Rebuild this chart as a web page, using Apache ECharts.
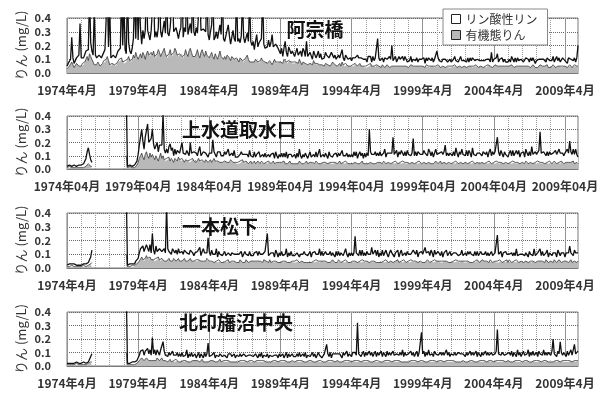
<!DOCTYPE html>
<html>
<head>
<meta charset="utf-8">
<script src="https://cdn.jsdelivr.net/npm/echarts@6/dist/echarts.min.js"></script>
<style>
html,body{margin:0;padding:0;background:#fff}
#chart{width:603px;height:396px}
</style>
</head>
<body>
<div id="chart"></div>
<script>
// Monthly phosphorus (mg/L), April 1974 – March 2010, one row per fiscal year (Apr–Mar).
const startYear = 1974;
const monthCount = 432;
const tickYears = [1974, 1979, 1984, 1989, 1994, 1999, 2004, 2009];
const stations = ['阿宗橋', '上水道取水口', '一本松下', '北印旛沼中央'];
const seriesNames = ['リン酸性リン', '有機態りん'];

// 阿宗橋
const asoOrg = [
0.03,0.04,0.05,0.06,0.08,0.06,0.04,0.05,0.07,0.06,0.05,0.06,
0.05,0.07,0.06,0.08,0.10,0.12,0.09,0.14,0.12,0.10,0.08,0.06,
0.05,0.06,0.08,0.07,0.05,0.06,0.07,0.09,0.08,0.10,0.12,0.09,
0.06,0.05,0.07,0.08,0.06,0.05,0.07,0.08,0.10,0.09,0.11,0.08,
0.07,0.09,0.08,0.10,0.12,0.09,0.08,0.10,0.13,0.11,0.15,0.12,
0.10,0.12,0.14,0.11,0.15,0.13,0.10,0.14,0.16,0.13,0.12,0.15,
0.13,0.16,0.12,0.11,0.14,0.17,0.15,0.12,0.13,0.16,0.18,0.14,
0.12,0.11,0.14,0.17,0.13,0.12,0.15,0.18,0.16,0.13,0.12,0.14,
0.15,0.12,0.11,0.13,0.17,0.14,0.12,0.16,0.18,0.15,0.12,0.13,
0.12,0.14,0.17,0.13,0.11,0.15,0.17,0.14,0.12,0.16,0.13,0.12,
0.11,0.13,0.15,0.12,0.10,0.14,0.12,0.10,0.13,0.16,0.12,0.11,
0.10,0.12,0.10,0.13,0.14,0.11,0.09,0.12,0.13,0.10,0.10,0.11,
0.10,0.08,0.11,0.12,0.09,0.08,0.10,0.11,0.13,0.10,0.08,0.09,
0.08,0.09,0.08,0.10,0.11,0.08,0.07,0.09,0.11,0.09,0.08,0.08,
0.08,0.07,0.08,0.09,0.08,0.06,0.08,0.10,0.08,0.07,0.08,0.08,
0.08,0.09,0.07,0.10,0.11,0.08,0.07,0.09,0.10,0.08,0.07,0.08,
0.07,0.08,0.09,0.07,0.10,0.08,0.06,0.08,0.09,0.07,0.08,0.06,
0.06,0.07,0.08,0.06,0.09,0.07,0.06,0.07,0.08,0.06,0.07,0.06,
0.06,0.05,0.07,0.08,0.06,0.07,0.05,0.06,0.08,0.07,0.06,0.05,
0.05,0.06,0.07,0.05,0.08,0.06,0.05,0.07,0.06,0.05,0.06,0.05,
0.05,0.06,0.05,0.07,0.06,0.05,0.06,0.07,0.05,0.06,0.05,0.04,
0.05,0.04,0.06,0.05,0.07,0.05,0.06,0.05,0.04,0.06,0.05,0.05,
0.05,0.04,0.06,0.05,0.04,0.05,0.06,0.05,0.04,0.05,0.05,0.04,
0.05,0.06,0.05,0.04,0.05,0.06,0.05,0.04,0.05,0.06,0.05,0.05,
0.04,0.05,0.06,0.05,0.05,0.04,0.05,0.06,0.05,0.04,0.05,0.05,
0.05,0.05,0.04,0.06,0.05,0.05,0.04,0.05,0.06,0.05,0.04,0.05,
0.05,0.06,0.05,0.04,0.05,0.05,0.06,0.04,0.05,0.05,0.04,0.05,
0.04,0.05,0.05,0.06,0.05,0.04,0.05,0.05,0.06,0.04,0.05,0.05,
0.05,0.04,0.05,0.05,0.06,0.05,0.04,0.05,0.05,0.06,0.05,0.04,
0.05,0.05,0.06,0.04,0.05,0.05,0.04,0.06,0.05,0.05,0.05,0.04,
0.05,0.06,0.05,0.05,0.04,0.05,0.06,0.05,0.04,0.05,0.05,0.05,
0.04,0.05,0.05,0.06,0.05,0.04,0.05,0.05,0.06,0.05,0.04,0.05,
0.05,0.05,0.04,0.05,0.06,0.05,0.05,0.04,0.05,0.06,0.05,0.04,
0.05,0.04,0.05,0.06,0.05,0.05,0.04,0.05,0.05,0.06,0.04,0.05,
0.04,0.05,0.06,0.05,0.04,0.05,0.05,0.06,0.05,0.04,0.05,0.05,
0.05,0.05,0.04,0.05,0.06,0.05,0.04,0.05,0.06,0.05,0.05,0.05
];
const asoPO4 = [
0.02,0.03,0.02,0.04,0.18,0.05,0.03,0.02,0.04,0.06,0.08,0.30,
0.06,0.04,0.05,0.03,0.06,0.05,0.08,0.45,0.10,0.06,0.05,0.40,
0.08,0.05,0.04,0.06,0.07,0.05,0.06,0.04,0.09,0.07,0.48,0.10,
0.45,0.06,0.04,0.05,0.07,0.06,0.05,0.08,0.06,0.09,0.50,0.12,
0.46,0.08,0.06,0.52,0.10,0.07,0.06,0.08,0.12,0.48,0.10,0.50,
0.14,0.45,0.18,0.10,0.16,0.12,0.21,0.50,0.15,0.18,0.12,0.16,
0.17,0.44,0.14,0.19,0.12,0.16,0.48,0.18,0.13,0.10,0.20,0.15,
0.46,0.18,0.13,0.16,0.20,0.45,0.15,0.12,0.17,0.19,0.13,0.16,
0.18,0.50,0.15,0.20,0.13,0.47,0.16,0.12,0.18,0.14,0.44,0.17,
0.15,0.19,0.12,0.17,0.48,0.16,0.13,0.18,0.20,0.14,0.46,0.16,
0.13,0.17,0.20,0.45,0.14,0.12,0.18,0.15,0.13,0.19,0.16,0.49,
0.15,0.11,0.17,0.14,0.21,0.16,0.12,0.10,0.18,0.15,0.13,0.47,
0.13,0.17,0.11,0.15,0.44,0.18,0.12,0.10,0.16,0.13,0.46,0.14,
0.12,0.14,0.09,0.13,0.17,0.11,0.15,0.12,0.14,0.48,0.13,0.10,
0.09,0.12,0.16,0.10,0.14,0.22,0.11,0.09,0.13,0.15,0.10,0.11,
0.06,0.09,0.05,0.08,0.12,0.07,0.05,0.10,0.08,0.06,0.09,0.07,
0.05,0.07,0.09,0.06,0.04,0.08,0.06,0.10,0.07,0.05,0.15,0.06,
0.05,0.08,0.06,0.04,0.07,0.09,0.05,0.06,0.08,0.05,0.07,0.04,
0.04,0.06,0.08,0.05,0.07,0.04,0.06,0.09,0.05,0.04,0.07,0.05,
0.05,0.07,0.04,0.06,0.09,0.05,0.04,0.06,0.08,0.05,0.04,0.06,
0.04,0.05,0.07,0.04,0.06,0.08,0.05,0.03,0.06,0.04,0.05,0.07,
0.05,0.04,0.06,0.08,0.05,0.03,0.06,0.04,0.07,0.05,0.20,0.06,
0.04,0.06,0.05,0.03,0.07,0.05,0.04,0.06,0.08,0.05,0.15,0.05,
0.04,0.06,0.03,0.05,0.07,0.04,0.05,0.08,0.04,0.06,0.05,0.03,
0.05,0.04,0.06,0.03,0.05,0.07,0.04,0.05,0.03,0.06,0.04,0.05,
0.04,0.06,0.03,0.05,0.04,0.06,0.08,0.04,0.05,0.03,0.06,0.04,
0.11,0.05,0.04,0.06,0.03,0.05,0.04,0.06,0.05,0.03,0.04,0.05,
0.04,0.03,0.05,0.06,0.04,0.05,0.03,0.04,0.06,0.05,0.03,0.04,
0.05,0.04,0.06,0.03,0.05,0.04,0.07,0.05,0.04,0.03,0.05,0.06,
0.04,0.05,0.03,0.06,0.04,0.05,0.06,0.04,0.05,0.03,0.10,0.04,
0.05,0.04,0.06,0.09,0.04,0.05,0.03,0.06,0.04,0.05,0.03,0.04,
0.04,0.05,0.03,0.06,0.05,0.04,0.06,0.03,0.05,0.04,0.06,0.05,
0.05,0.03,0.04,0.06,0.04,0.05,0.03,0.07,0.04,0.05,0.04,0.03,
0.04,0.06,0.05,0.03,0.05,0.04,0.06,0.04,0.03,0.05,0.06,0.04,
0.05,0.04,0.06,0.03,0.05,0.07,0.04,0.05,0.03,0.04,0.06,0.05,
0.04,0.05,0.03,0.06,0.04,0.05,0.07,0.04,0.05,0.03,0.06,0.15
];

// 上水道取水口
const josuiOrg = [
0.01,0.01,0.02,0.01,0.01,0.02,0.01,0.01,0.01,0.02,0.01,0.01,
0.01,0.02,0.01,0.01,0.02,0.03,0.04,0.03,0.02,0.02,null,null,
null,null,null,null,null,null,null,null,null,null,null,null,
null,null,null,null,null,null,null,null,null,null,null,null,
null,null,0.10,0.01,0.01,0.02,0.01,0.01,0.02,0.01,0.02,0.03,
0.05,0.08,0.10,0.12,0.09,0.07,0.11,0.13,0.10,0.08,0.12,0.09,
0.11,0.09,0.07,0.10,0.08,0.06,0.09,0.12,0.08,0.10,0.07,0.06,
0.08,0.07,0.09,0.06,0.08,0.07,0.05,0.08,0.07,0.06,0.09,0.07,
0.06,0.08,0.07,0.05,0.07,0.08,0.06,0.05,0.07,0.06,0.08,0.06,
0.07,0.05,0.06,0.08,0.06,0.05,0.07,0.06,0.05,0.07,0.06,0.05,
0.06,0.07,0.05,0.06,0.08,0.06,0.05,0.06,0.07,0.05,0.06,0.05,
0.05,0.06,0.07,0.05,0.06,0.05,0.07,0.06,0.05,0.06,0.05,0.04,
0.05,0.04,0.06,0.05,0.07,0.05,0.04,0.06,0.05,0.04,0.05,0.06,
0.04,0.05,0.06,0.04,0.05,0.06,0.05,0.04,0.06,0.05,0.04,0.05,
0.05,0.04,0.06,0.05,0.04,0.05,0.06,0.04,0.05,0.05,0.04,0.05,
0.04,0.05,0.05,0.06,0.04,0.05,0.04,0.05,0.06,0.04,0.05,0.04,
0.05,0.04,0.05,0.04,0.06,0.05,0.04,0.05,0.04,0.05,0.06,0.04,
0.04,0.05,0.04,0.05,0.05,0.04,0.06,0.05,0.04,0.05,0.04,0.05,
0.05,0.04,0.05,0.06,0.04,0.05,0.05,0.04,0.05,0.04,0.05,0.06,
0.04,0.05,0.06,0.04,0.05,0.05,0.04,0.06,0.05,0.04,0.05,0.04,
0.05,0.04,0.05,0.05,0.06,0.04,0.05,0.04,0.05,0.06,0.04,0.05,
0.04,0.05,0.04,0.05,0.05,0.06,0.04,0.05,0.04,0.05,0.05,0.04,
0.05,0.05,0.04,0.06,0.05,0.04,0.05,0.05,0.06,0.04,0.05,0.05,
0.04,0.06,0.05,0.04,0.05,0.05,0.04,0.06,0.05,0.05,0.04,0.05,
0.05,0.04,0.05,0.05,0.06,0.04,0.05,0.05,0.04,0.06,0.05,0.04,
0.04,0.05,0.06,0.04,0.05,0.05,0.06,0.04,0.05,0.04,0.05,0.06,
0.05,0.04,0.05,0.06,0.04,0.05,0.05,0.06,0.04,0.05,0.05,0.04,
0.04,0.05,0.05,0.04,0.06,0.05,0.04,0.05,0.05,0.06,0.04,0.05,
0.05,0.06,0.04,0.05,0.05,0.04,0.06,0.05,0.04,0.05,0.05,0.06,
0.04,0.05,0.05,0.06,0.04,0.05,0.05,0.04,0.06,0.05,0.04,0.05,
0.05,0.04,0.06,0.05,0.05,0.04,0.05,0.06,0.04,0.05,0.05,0.04,
0.04,0.05,0.05,0.04,0.06,0.05,0.05,0.04,0.05,0.06,0.04,0.05,
0.05,0.05,0.04,0.06,0.05,0.04,0.05,0.05,0.06,0.04,0.05,0.05,
0.04,0.06,0.05,0.05,0.04,0.05,0.06,0.04,0.05,0.05,0.04,0.06,
0.05,0.04,0.05,0.06,0.05,0.04,0.05,0.05,0.04,0.06,0.05,0.04,
0.04,0.05,0.06,0.05,0.04,0.05,0.05,0.06,0.04,0.05,0.05,0.04
];
const josuiPO4 = [
0.01,0.01,0.01,0.02,0.01,0.01,0.02,0.01,0.01,0.01,0.02,0.01,
0.02,0.01,0.03,0.02,0.06,0.10,0.12,0.08,0.05,0.03,null,null,
null,null,null,null,null,null,null,null,null,null,null,null,
null,null,null,null,null,null,null,null,null,null,null,null,
null,null,0.45,0.01,0.01,0.01,0.02,0.01,0.01,0.02,0.01,0.03,
0.06,0.10,0.14,0.18,0.12,0.08,0.13,0.10,0.24,0.12,0.09,0.14,
0.19,0.10,0.08,0.06,0.12,0.07,0.09,0.06,0.10,0.32,0.08,0.06,
0.07,0.05,0.08,0.13,0.06,0.09,0.05,0.07,0.04,0.08,0.06,0.05,
0.06,0.12,0.05,0.07,0.04,0.06,0.08,0.05,0.13,0.06,0.04,0.07,
0.05,0.07,0.04,0.06,0.11,0.05,0.04,0.07,0.09,0.05,0.06,0.04,
0.06,0.04,0.07,0.16,0.05,0.06,0.04,0.07,0.05,0.08,0.04,0.06,
0.05,0.07,0.04,0.06,0.09,0.05,0.04,0.06,0.05,0.08,0.04,0.05,
0.04,0.06,0.05,0.08,0.04,0.05,0.07,0.04,0.06,0.05,0.09,0.04,
0.05,0.04,0.07,0.05,0.06,0.04,0.08,0.05,0.04,0.06,0.05,0.07,
0.04,0.06,0.05,0.04,0.07,0.05,0.06,0.04,0.08,0.05,0.04,0.06,
0.05,0.07,0.04,0.06,0.05,0.08,0.04,0.06,0.05,0.07,0.04,0.05,
0.06,0.04,0.07,0.05,0.09,0.05,0.04,0.06,0.05,0.07,0.05,0.04,
0.05,0.08,0.05,0.04,0.06,0.05,0.07,0.04,0.06,0.10,0.05,0.04,
0.06,0.05,0.07,0.05,0.04,0.08,0.05,0.06,0.04,0.07,0.05,0.06,
0.05,0.07,0.04,0.06,0.09,0.05,0.06,0.04,0.07,0.05,0.06,0.05,
0.06,0.05,0.08,0.05,0.07,0.04,0.06,0.09,0.05,0.06,0.04,0.07,
0.05,0.07,0.06,0.25,0.08,0.05,0.07,0.06,0.09,0.05,0.07,0.06,
0.08,0.05,0.07,0.06,0.10,0.05,0.07,0.08,0.06,0.09,0.07,0.19,
0.07,0.06,0.09,0.05,0.08,0.06,0.10,0.07,0.05,0.08,0.06,0.09,
0.06,0.08,0.05,0.07,0.17,0.06,0.08,0.05,0.09,0.07,0.06,0.08,
0.07,0.09,0.06,0.08,0.05,0.10,0.07,0.06,0.08,0.05,0.07,0.09,
0.06,0.08,0.07,0.05,0.09,0.06,0.08,0.12,0.06,0.07,0.05,0.08,
0.07,0.05,0.08,0.06,0.10,0.07,0.05,0.08,0.06,0.09,0.07,0.06,
0.05,0.08,0.06,0.09,0.07,0.05,0.10,0.06,0.08,0.05,0.07,0.06,
0.08,0.06,0.05,0.07,0.09,0.06,0.08,0.05,0.07,0.10,0.06,0.08,
0.06,0.09,0.07,0.19,0.08,0.06,0.09,0.07,0.05,0.08,0.06,0.07,
0.05,0.07,0.09,0.06,0.08,0.05,0.07,0.10,0.06,0.08,0.05,0.07,
0.06,0.08,0.05,0.09,0.07,0.06,0.08,0.05,0.11,0.07,0.06,0.08,
0.07,0.05,0.09,0.23,0.08,0.06,0.07,0.09,0.05,0.08,0.06,0.07,
0.06,0.08,0.07,0.05,0.09,0.07,0.06,0.10,0.08,0.05,0.07,0.06,
0.08,0.06,0.09,0.07,0.17,0.08,0.06,0.09,0.07,0.10,0.06,0.05
];

// 一本松下
const ipponOrg = [
0.01,0.01,0.01,0.01,0.02,0.01,0.01,0.01,0.01,0.01,0.01,0.01,
0.01,0.01,0.02,0.01,0.01,0.01,0.02,0.02,0.03,0.04,null,null,
null,null,null,null,null,null,null,null,null,null,null,null,
null,null,null,null,null,null,null,null,null,null,null,null,
null,null,0.10,0.01,0.01,0.01,0.01,0.02,0.01,0.02,0.02,0.03,
0.04,0.05,0.06,0.08,0.06,0.05,0.07,0.09,0.07,0.06,0.08,0.06,
0.07,0.06,0.05,0.07,0.06,0.08,0.06,0.05,0.07,0.06,0.05,0.06,
0.05,0.06,0.07,0.05,0.06,0.05,0.07,0.06,0.05,0.06,0.07,0.05,
0.06,0.05,0.06,0.07,0.05,0.06,0.05,0.06,0.07,0.05,0.06,0.05,
0.05,0.06,0.05,0.06,0.07,0.05,0.06,0.05,0.06,0.05,0.07,0.06,
0.05,0.04,0.05,0.06,0.04,0.05,0.05,0.04,0.06,0.05,0.04,0.05,
0.04,0.05,0.05,0.04,0.06,0.04,0.05,0.05,0.04,0.05,0.06,0.04,
0.05,0.04,0.06,0.05,0.04,0.05,0.04,0.06,0.05,0.04,0.05,0.05,
0.04,0.05,0.04,0.05,0.06,0.05,0.04,0.05,0.05,0.04,0.06,0.05,
0.05,0.05,0.04,0.06,0.04,0.05,0.05,0.04,0.05,0.06,0.04,0.05,
0.04,0.05,0.05,0.04,0.05,0.06,0.04,0.05,0.04,0.05,0.05,0.04,
0.05,0.04,0.06,0.05,0.04,0.05,0.05,0.06,0.04,0.05,0.04,0.05,
0.04,0.05,0.04,0.05,0.05,0.04,0.06,0.05,0.05,0.04,0.05,0.06,
0.05,0.04,0.05,0.06,0.04,0.05,0.04,0.05,0.06,0.05,0.04,0.05,
0.04,0.06,0.05,0.04,0.05,0.05,0.04,0.06,0.05,0.04,0.05,0.04,
0.05,0.05,0.04,0.05,0.06,0.04,0.05,0.05,0.04,0.06,0.05,0.05,
0.04,0.05,0.06,0.04,0.05,0.05,0.04,0.05,0.06,0.04,0.05,0.04,
0.05,0.04,0.05,0.05,0.04,0.06,0.05,0.04,0.05,0.05,0.06,0.04,
0.04,0.05,0.05,0.06,0.04,0.05,0.05,0.04,0.06,0.05,0.04,0.05,
0.05,0.04,0.06,0.05,0.05,0.04,0.05,0.06,0.04,0.05,0.05,0.04,
0.04,0.05,0.04,0.05,0.06,0.05,0.04,0.05,0.05,0.04,0.06,0.05,
0.05,0.06,0.05,0.04,0.05,0.04,0.05,0.06,0.05,0.05,0.04,0.05,
0.04,0.05,0.05,0.04,0.06,0.05,0.05,0.04,0.05,0.06,0.05,0.04,
0.05,0.04,0.05,0.06,0.04,0.05,0.04,0.05,0.05,0.04,0.06,0.05,
0.04,0.05,0.06,0.05,0.05,0.04,0.05,0.05,0.04,0.06,0.05,0.04,
0.05,0.05,0.04,0.05,0.04,0.06,0.05,0.04,0.05,0.05,0.04,0.06,
0.04,0.06,0.05,0.04,0.05,0.05,0.04,0.06,0.05,0.04,0.05,0.05,
0.05,0.04,0.05,0.05,0.06,0.04,0.05,0.05,0.04,0.05,0.06,0.04,
0.04,0.05,0.06,0.05,0.04,0.05,0.05,0.04,0.06,0.05,0.04,0.05,
0.05,0.05,0.04,0.06,0.05,0.04,0.05,0.06,0.05,0.04,0.05,0.05,
0.04,0.05,0.05,0.04,0.05,0.06,0.04,0.05,0.05,0.06,0.04,0.05
];
const ipponPO4 = [
0.01,0.01,0.02,0.01,0.01,0.01,0.02,0.01,0.01,0.02,0.01,0.01,
0.01,0.02,0.01,0.01,0.02,0.01,0.02,0.03,0.05,0.09,null,null,
null,null,null,null,null,null,null,null,null,null,null,null,
null,null,null,null,null,null,null,null,null,null,null,null,
null,null,0.45,0.01,0.01,0.02,0.01,0.01,0.02,0.01,0.03,0.02,
0.03,0.06,0.08,0.05,0.10,0.07,0.04,0.08,0.11,0.06,0.09,0.05,
0.18,0.07,0.05,0.09,0.06,0.04,0.08,0.10,0.05,0.07,0.09,0.05,
0.40,0.08,0.05,0.07,0.04,0.09,0.06,0.05,0.08,0.04,0.07,0.06,
0.05,0.07,0.04,0.06,0.09,0.05,0.07,0.04,0.06,0.08,0.05,0.04,
0.06,0.04,0.07,0.05,0.08,0.04,0.06,0.09,0.05,0.07,0.04,0.16,
0.07,0.05,0.08,0.04,0.06,0.05,0.09,0.04,0.06,0.05,0.07,0.04,
0.05,0.07,0.04,0.06,0.05,0.08,0.04,0.06,0.07,0.05,0.04,0.06,
0.04,0.06,0.05,0.07,0.04,0.05,0.08,0.04,0.06,0.05,0.07,0.04,
0.05,0.04,0.07,0.05,0.06,0.04,0.08,0.05,0.04,0.06,0.05,0.07,
0.06,0.20,0.05,0.04,0.07,0.05,0.06,0.04,0.08,0.05,0.04,0.06,
0.05,0.07,0.04,0.06,0.05,0.08,0.04,0.06,0.05,0.07,0.04,0.05,
0.04,0.06,0.05,0.07,0.04,0.05,0.06,0.04,0.08,0.05,0.06,0.04,
0.05,0.07,0.04,0.06,0.05,0.08,0.04,0.06,0.05,0.10,0.04,0.06,
0.04,0.05,0.07,0.04,0.06,0.05,0.08,0.04,0.05,0.06,0.04,0.07,
0.05,0.06,0.04,0.07,0.05,0.04,0.06,0.08,0.05,0.04,0.06,0.05,
0.06,0.04,0.07,0.18,0.05,0.06,0.04,0.08,0.05,0.07,0.04,0.06,
0.05,0.07,0.04,0.06,0.05,0.10,0.06,0.04,0.07,0.05,0.08,0.04,
0.06,0.05,0.08,0.04,0.06,0.07,0.05,0.04,0.06,0.08,0.05,0.07,
0.04,0.06,0.05,0.07,0.04,0.06,0.08,0.05,0.04,0.06,0.05,0.07,
0.05,0.07,0.04,0.06,0.08,0.10,0.05,0.07,0.04,0.06,0.05,0.08,
0.06,0.05,0.11,0.06,0.04,0.07,0.05,0.08,0.06,0.04,0.07,0.05,
0.04,0.06,0.08,0.05,0.07,0.04,0.06,0.05,0.08,0.04,0.06,0.07,
0.05,0.04,0.06,0.08,0.05,0.07,0.04,0.06,0.05,0.07,0.04,0.06,
0.06,0.05,0.07,0.04,0.08,0.05,0.06,0.04,0.07,0.05,0.06,0.04,
0.05,0.07,0.04,0.06,0.05,0.08,0.04,0.06,0.05,0.04,0.07,0.05,
0.04,0.06,0.08,0.19,0.06,0.05,0.07,0.04,0.06,0.05,0.08,0.04,
0.06,0.04,0.05,0.07,0.04,0.06,0.05,0.08,0.04,0.06,0.05,0.04,
0.05,0.07,0.04,0.06,0.05,0.04,0.07,0.05,0.06,0.04,0.08,0.05,
0.04,0.06,0.05,0.09,0.05,0.07,0.04,0.06,0.05,0.08,0.04,0.06,
0.05,0.04,0.07,0.05,0.06,0.04,0.08,0.05,0.04,0.07,0.05,0.06,
0.04,0.06,0.05,0.07,0.11,0.05,0.06,0.04,0.08,0.05,0.07,0.06
];

// 北印旛沼中央
const kitaOrg = [
0.01,0.01,0.01,0.02,0.01,0.01,0.01,0.01,0.02,0.01,0.01,0.01,
0.01,0.01,0.01,0.02,0.01,0.01,0.02,0.02,0.03,0.03,null,null,
null,null,null,null,null,null,null,null,null,null,null,null,
null,null,null,null,null,null,null,null,null,null,null,null,
null,null,0.10,0.01,0.01,0.01,0.01,0.01,0.02,0.01,0.02,0.02,
0.03,0.04,0.05,0.06,0.05,0.04,0.05,0.06,0.05,0.04,0.05,0.04,
0.05,0.04,0.05,0.04,0.06,0.05,0.04,0.05,0.06,0.04,0.05,0.04,
0.04,0.03,0.04,0.05,0.03,0.04,0.04,0.03,0.05,0.04,0.03,0.04,
0.03,0.04,0.04,0.03,0.04,0.05,0.03,0.04,0.03,0.04,0.04,0.03,
0.04,0.03,0.04,0.04,0.03,0.04,0.05,0.03,0.04,0.03,0.04,0.03,
0.03,0.04,0.03,0.04,0.04,0.03,0.04,0.03,0.04,0.05,0.03,0.04,
0.04,0.03,0.04,0.03,0.04,0.04,0.03,0.04,0.03,0.04,0.03,0.04,
0.03,0.04,0.04,0.03,0.04,0.03,0.04,0.04,0.03,0.04,0.04,0.03,
0.04,0.03,0.03,0.04,0.04,0.03,0.04,0.03,0.04,0.03,0.04,0.04,
0.03,0.04,0.03,0.04,0.03,0.04,0.04,0.03,0.04,0.04,0.03,0.04,
0.04,0.03,0.04,0.03,0.04,0.04,0.03,0.04,0.03,0.04,0.04,0.03,
0.03,0.04,0.04,0.03,0.04,0.03,0.04,0.04,0.03,0.04,0.03,0.04,
0.04,0.03,0.04,0.04,0.03,0.04,0.03,0.04,0.04,0.03,0.04,0.03,
0.03,0.04,0.03,0.04,0.04,0.03,0.04,0.03,0.04,0.04,0.03,0.04,
0.04,0.04,0.03,0.04,0.03,0.04,0.04,0.03,0.04,0.03,0.04,0.04,
0.03,0.04,0.04,0.03,0.04,0.03,0.04,0.04,0.03,0.04,0.04,0.03,
0.04,0.03,0.04,0.04,0.03,0.04,0.03,0.04,0.04,0.03,0.04,0.03,
0.03,0.04,0.03,0.04,0.04,0.03,0.04,0.03,0.04,0.04,0.03,0.04,
0.04,0.03,0.04,0.03,0.04,0.04,0.03,0.04,0.03,0.04,0.03,0.04,
0.03,0.04,0.04,0.03,0.04,0.03,0.04,0.04,0.03,0.04,0.04,0.03,
0.04,0.04,0.03,0.04,0.03,0.04,0.04,0.03,0.04,0.03,0.04,0.04,
0.03,0.04,0.04,0.03,0.04,0.04,0.03,0.04,0.04,0.03,0.04,0.03,
0.04,0.03,0.04,0.04,0.03,0.04,0.03,0.04,0.03,0.04,0.04,0.03,
0.03,0.04,0.03,0.04,0.04,0.03,0.04,0.04,0.03,0.04,0.03,0.04,
0.04,0.03,0.04,0.03,0.04,0.04,0.03,0.04,0.04,0.03,0.04,0.04,
0.03,0.04,0.04,0.03,0.04,0.03,0.04,0.03,0.04,0.04,0.03,0.04,
0.04,0.04,0.03,0.04,0.03,0.04,0.04,0.03,0.04,0.03,0.04,0.03,
0.03,0.04,0.04,0.03,0.04,0.04,0.03,0.04,0.03,0.04,0.04,0.03,
0.04,0.03,0.04,0.04,0.03,0.04,0.04,0.03,0.04,0.04,0.03,0.04,
0.03,0.04,0.03,0.04,0.04,0.03,0.04,0.04,0.03,0.04,0.04,0.03,
0.04,0.03,0.04,0.03,0.04,0.04,0.03,0.04,0.04,0.03,0.04,0.04
];
const kitaPO4 = [
0.01,0.01,0.01,0.01,0.01,0.02,0.01,0.01,0.01,0.01,0.01,0.02,
0.01,0.01,0.02,0.01,0.01,0.02,0.01,0.03,0.04,0.06,null,null,
null,null,null,null,null,null,null,null,null,null,null,null,
null,null,null,null,null,null,null,null,null,null,null,null,
null,null,0.45,0.01,0.01,0.01,0.01,0.02,0.01,0.02,0.01,0.02,
0.02,0.04,0.06,0.05,0.07,0.04,0.06,0.05,0.08,0.05,0.07,0.04,
0.16,0.05,0.07,0.04,0.06,0.05,0.04,0.07,0.05,0.14,0.06,0.04,
0.05,0.04,0.06,0.03,0.05,0.07,0.04,0.05,0.03,0.06,0.04,0.05,
0.04,0.06,0.03,0.05,0.04,0.07,0.03,0.05,0.04,0.06,0.03,0.04,
0.05,0.03,0.04,0.06,0.03,0.05,0.04,0.03,0.06,0.04,0.05,0.14,
0.04,0.03,0.05,0.04,0.06,0.03,0.04,0.05,0.03,0.04,0.06,0.03,
0.03,0.05,0.04,0.03,0.05,0.04,0.06,0.03,0.04,0.05,0.03,0.04,
0.04,0.03,0.05,0.04,0.03,0.06,0.04,0.03,0.05,0.04,0.03,0.05,
0.03,0.04,0.03,0.05,0.04,0.03,0.05,0.04,0.06,0.03,0.04,0.03,
0.04,0.05,0.03,0.04,0.06,0.03,0.04,0.05,0.03,0.04,0.03,0.05,
0.03,0.04,0.05,0.03,0.04,0.06,0.03,0.05,0.04,0.03,0.05,0.04,
0.04,0.03,0.05,0.04,0.06,0.04,0.03,0.05,0.04,0.06,0.03,0.04,
0.05,0.04,0.03,0.06,0.04,0.05,0.03,0.04,0.06,0.05,0.04,0.03,
0.04,0.05,0.06,0.12,0.05,0.04,0.06,0.03,0.05,0.04,0.06,0.05,
0.05,0.04,0.06,0.05,0.03,0.06,0.04,0.05,0.07,0.04,0.05,0.06,
0.04,0.06,0.05,0.07,0.04,0.29,0.05,0.06,0.04,0.05,0.07,0.04,
0.06,0.05,0.04,0.07,0.05,0.06,0.04,0.05,0.07,0.04,0.06,0.05,
0.05,0.07,0.04,0.06,0.05,0.04,0.07,0.05,0.06,0.04,0.05,0.07,
0.04,0.06,0.05,0.07,0.04,0.06,0.05,0.08,0.04,0.06,0.05,0.04,
0.06,0.04,0.07,0.05,0.06,0.04,0.05,0.07,0.04,0.06,0.05,0.22,
0.05,0.07,0.04,0.06,0.05,0.08,0.04,0.06,0.05,0.04,0.07,0.05,
0.06,0.04,0.05,0.07,0.04,0.06,0.05,0.04,0.08,0.05,0.06,0.04,
0.05,0.07,0.04,0.06,0.05,0.04,0.07,0.05,0.06,0.04,0.05,0.07,
0.04,0.06,0.05,0.04,0.07,0.05,0.06,0.04,0.05,0.07,0.04,0.06,
0.05,0.04,0.06,0.05,0.04,0.07,0.05,0.06,0.04,0.05,0.06,0.04,
0.06,0.05,0.07,0.24,0.05,0.06,0.04,0.07,0.05,0.04,0.06,0.05,
0.04,0.06,0.05,0.07,0.04,0.06,0.05,0.04,0.08,0.05,0.06,0.04,
0.05,0.07,0.04,0.06,0.05,0.08,0.04,0.06,0.05,0.07,0.04,0.06,
0.06,0.04,0.07,0.05,0.06,0.04,0.08,0.05,0.06,0.04,0.07,0.05,
0.05,0.07,0.17,0.05,0.06,0.04,0.07,0.05,0.15,0.06,0.04,0.07,
0.06,0.04,0.07,0.05,0.06,0.08,0.05,0.04,0.12,0.06,0.05,0.07
];

// Month categories: 1974-04 … 2010-03
const months = [];
for (let i = 0; i < monthCount; i++) {
  const y = startYear + Math.floor((i + 3) / 12);
  const m = (i + 3) % 12 + 1;
  months.push(y + '-' + m);
}
const tickSet = new Set(tickYears.map(y => y + '-4'));

const panels = [
  { po4: asoPO4,   org: asoOrg,   top: 18,  height: 55, tx: 315, ty: 30,  padMonth: false },
  { po4: josuiPO4, org: josuiOrg, top: 116, height: 53, tx: 239, ty: 130, padMonth: true  },
  { po4: ipponPO4, org: ipponOrg, top: 213, height: 55, tx: 220, ty: 227, padMonth: false },
  { po4: kitaPO4,  org: kitaOrg,  top: 312, height: 54, tx: 236, ty: 323, padMonth: false }
];

const FONT = '"Noto Sans CJK JP", "Noto Sans", sans-serif';
const GRAY = '#b9b9b9';
const grid = [], xAxis = [], yAxis = [], series = [], graphic = [];

panels.forEach((p, k) => {
  grid.push({ left: 67, right: 25, top: p.top, height: p.height, show: true,
              borderColor: '#7a7a7a', borderWidth: 1, backgroundColor: 'transparent' });

  const fmt = v => {
    if (!tickSet.has(v)) return '';
    const [y, m] = v.split('-');
    return y + '年' + (p.padMonth ? m.padStart(2, '0') : m) + '月';
  };
  // labelled axis with 5-year grid lines
  xAxis.push({ type: 'category', gridIndex: k, data: months, boundaryGap: false,
    axisLine: { show: true, lineStyle: { color: '#7a7a7a' } }, axisTick: { show: false },
    axisLabel: { interval: 59, formatter: fmt, fontSize: 12, fontWeight: 'bold',
                 color: '#333', margin: 11, fontFamily: FONT, hideOverlap: false },
    splitLine: { show: true, interval: 59, lineStyle: { color: '#8a8a8a', width: 1 } } });
  // yearly dotted grid lines
  xAxis.push({ type: 'category', gridIndex: k, data: months, boundaryGap: false,
    axisLine: { show: false }, axisTick: { show: false }, axisLabel: { show: false },
    splitLine: { show: true, interval: 11, lineStyle: { color: '#9a9a9a', type: 'dotted', width: 1 } } });

  yAxis.push({ type: 'value', gridIndex: k, min: 0, max: 0.4, interval: 0.1,
    axisLine: { show: false }, axisTick: { show: false },
    axisLabel: { formatter: v => v.toFixed(1), fontSize: 11, fontWeight: 'bold',
                 color: '#333', margin: 16, fontFamily: FONT },
    splitLine: { show: true, lineStyle: { color: '#666', type: 'dotted', width: 1 } },
    name: 'りん (mg/L)', nameLocation: 'middle', nameRotate: 90, nameGap: 39,
    nameMoveOverlap: false,
    nameTextStyle: { fontSize: 13, color: '#333', fontFamily: FONT } });

  series.push({ type: 'line', name: seriesNames[1], xAxisIndex: 2 * k, yAxisIndex: k,
    stack: 'p' + k, data: p.org, symbol: 'none', connectNulls: false,
    lineStyle: { color: '#333', width: 0.8 }, itemStyle: { color: GRAY },
    areaStyle: { color: GRAY, opacity: 1 } });
  series.push({ type: 'line', name: seriesNames[0], xAxisIndex: 2 * k, yAxisIndex: k,
    stack: 'p' + k, data: p.po4, symbol: 'none', connectNulls: false,
    lineStyle: { color: '#111', width: 1.3 }, itemStyle: { color: '#fff' },
    areaStyle: { color: '#fff', opacity: 1 } });

  graphic.push({ type: 'text', x: p.tx, y: p.ty, z: 10,
    style: { text: stations[k], fill: '#111', font: 'bold 19px ' + FONT,
             textAlign: 'center', textVerticalAlign: 'middle' } });
});

const chart = echarts.init(document.getElementById('chart'), null, { renderer: 'canvas' });
chart.setOption({
  animation: false,
  backgroundColor: '#fff',
  textStyle: { fontFamily: FONT },
  grid, xAxis, yAxis, series, graphic,
  legend: {
    orient: 'vertical', left: 443, top: 9, z: 8,
    backgroundColor: '#fff', borderColor: '#888', borderWidth: 1,
    padding: [4, 10, 4, 8], itemGap: 4, itemWidth: 9, itemHeight: 9,
    textStyle: { fontSize: 12, color: '#333', fontFamily: FONT },
    data: [
      { name: seriesNames[0], icon: 'rect', itemStyle: { color: '#fff', borderColor: '#222', borderWidth: 1 } },
      { name: seriesNames[1], icon: 'rect', itemStyle: { color: GRAY, borderColor: '#222', borderWidth: 1 } }
    ]
  }
});
</script>
</body>
</html>
